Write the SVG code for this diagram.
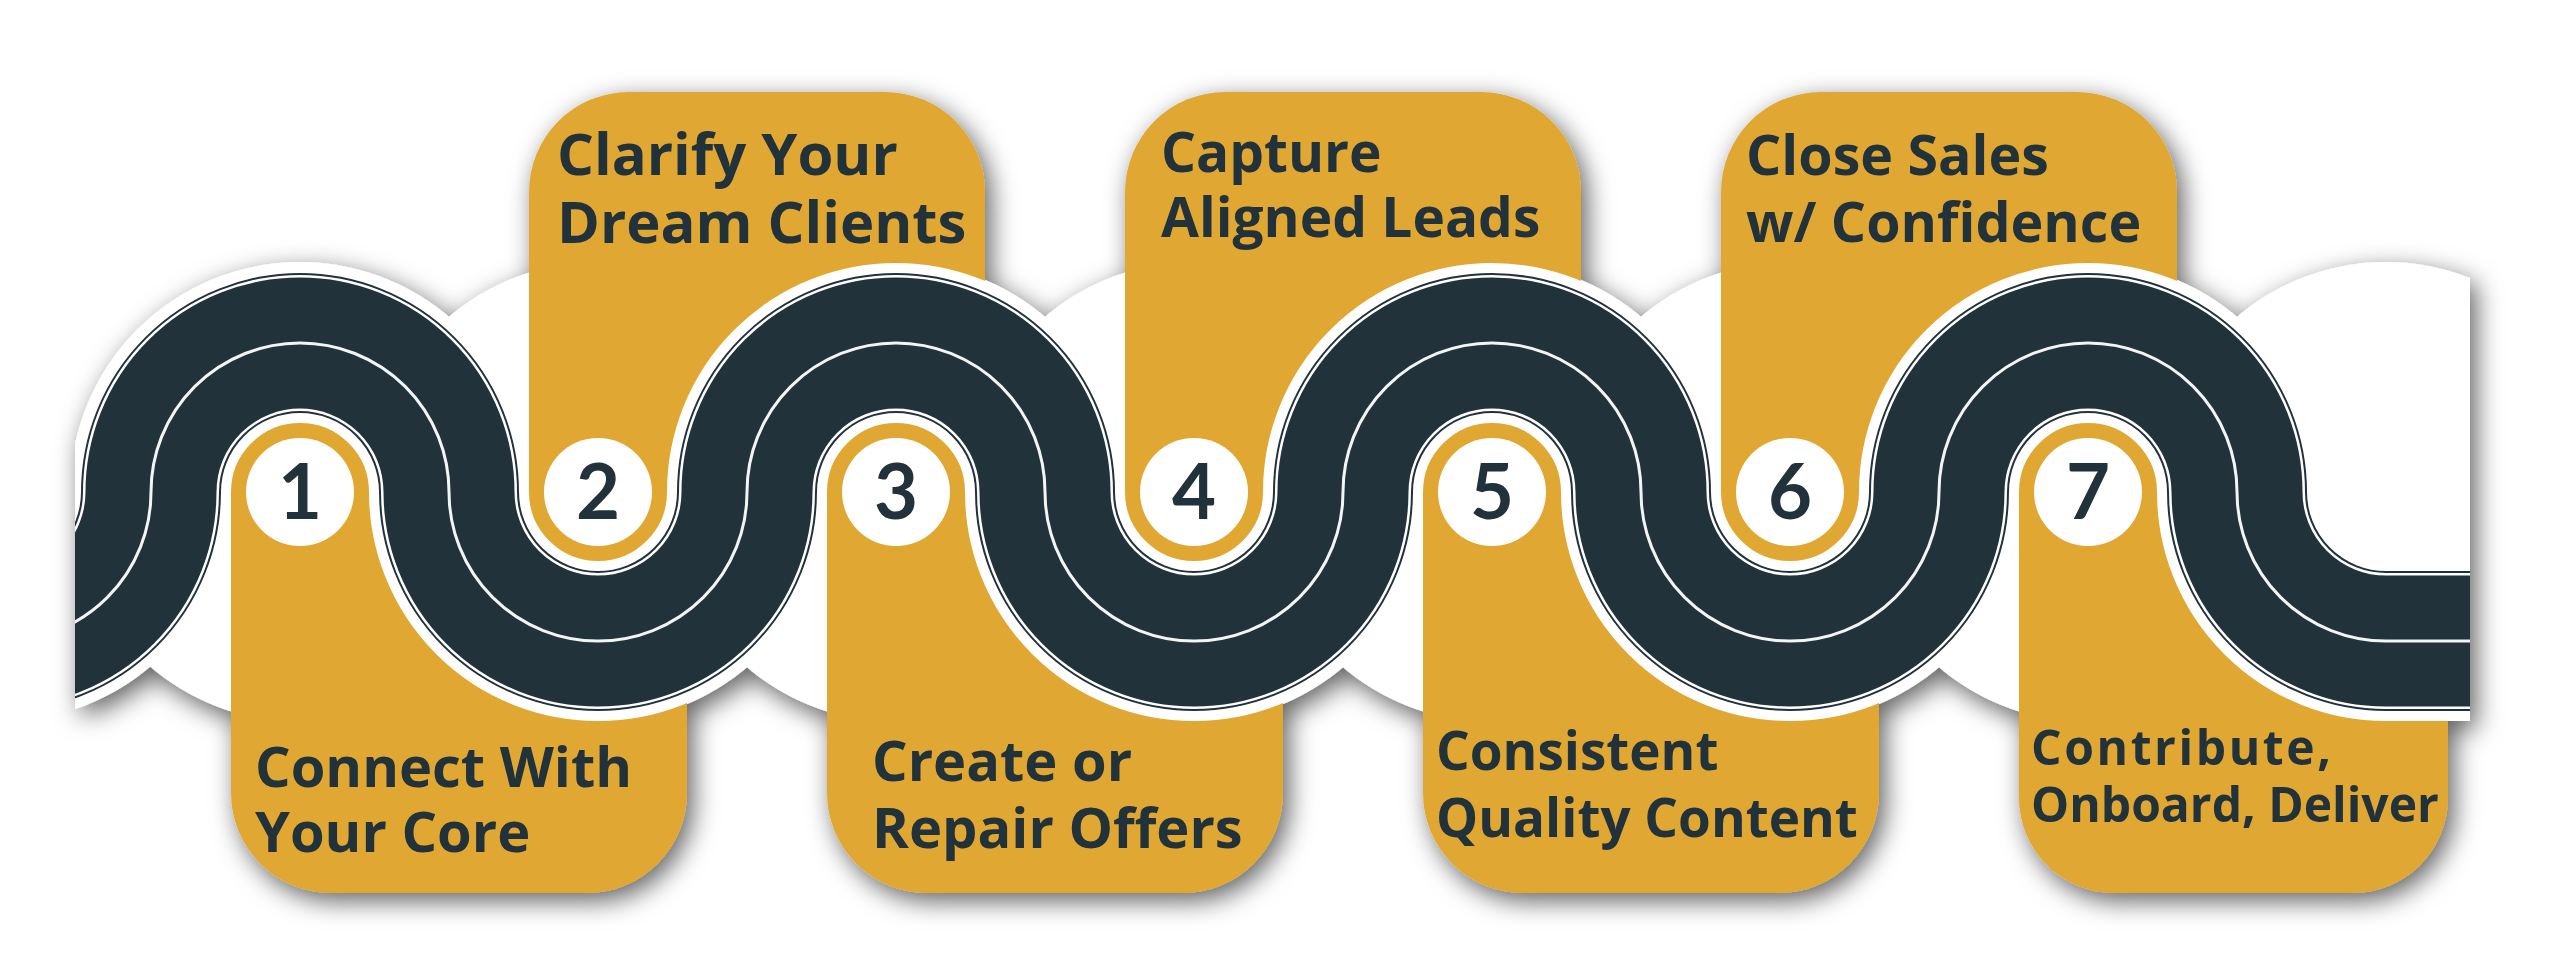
<svg xmlns="http://www.w3.org/2000/svg" xmlns:xlink="http://www.w3.org/1999/xlink" width="2560" height="954" viewBox="0 0 2560 954">
<defs>
<style>
.card{fill:#E0A833}
.disc{fill:#FFFFFF}
.numbg{fill:#FFFFFF}
.num{font-family:Lato,"Open Sans","Liberation Sans",sans-serif;font-weight:700;font-size:76px;fill:#22313A;text-anchor:middle}
.lbl{font-family:"Open Sans","Liberation Sans",sans-serif;font-weight:700;fill:#22313A}
.r-outline{fill:none;stroke:#FFFFFF;stroke-width:160}
.r-base{fill:none;stroke:#22313A;stroke-width:140}
.r-edge{fill:none;stroke:#FFFFFF;stroke-width:136}
.r-fill{fill:none;stroke:#22313A;stroke-width:131}
.r-mid{fill:none;stroke:#F2F4F5;stroke-width:3}
</style>
<filter id="shadow">
<feGaussianBlur in="SourceAlpha" stdDeviation="13"/>
<feOffset dx="6" dy="8" result="b"/>
<feFlood flood-color="#000000" flood-opacity="0.62"/>
<feComposite in2="b" operator="in"/>
<feMerge><feMergeNode/><feMergeNode in="SourceGraphic"/></feMerge>
</filter>
<clipPath id="frame"><rect x="75" y="0" width="2395" height="954"/></clipPath>
<clipPath id="c7clip"><path d="M2019,420 H2200 V492 L2210,560 L2386,700 H2448 V798 A95,95 0 0 1 2353,893 H2114 A95,95 0 0 1 2019,798 Z"/></clipPath>
<path id="roadPath" d="M-147,492 A149,149 0 0 0 151,492 A149,149 0 0 1 449,492 A149,149 0 0 0 747,492 A149,149 0 0 1 1045,492 A149,149 0 0 0 1343,492 A149,149 0 0 1 1641,492 A149,149 0 0 0 1939,492 A149,149 0 0 1 2237,492 A149,149 0 0 0 2386,641 L2520,641"/>
</defs>
<rect x="0" y="0" width="2560" height="954" fill="#FFFFFF"/>
<g filter="url(#shadow)">
<g clip-path="url(#frame)">
<g id="backdrop">
<circle class="disc" cx="300" cy="492" r="230"/>
<circle class="disc" cx="598" cy="492" r="230"/>
<circle class="disc" cx="896" cy="492" r="230"/>
<circle class="disc" cx="1194" cy="492" r="230"/>
<circle class="disc" cx="1492" cy="492" r="230"/>
<circle class="disc" cx="1790" cy="492" r="230"/>
<circle class="disc" cx="2088" cy="492" r="230"/>
<circle class="disc" cx="2386" cy="492" r="230"/>
</g>
<g id="step1">
<path class="card" d="M231,420 H500 V492 H687 V793 A100,100 0 0 1 587,893 H331 A100,100 0 0 1 231,793 Z"/>
<circle class="numbg" cx="300" cy="492" r="54"/>
<text class="num" x="300" y="519">1</text>
<text class="lbl" font-size="56" x="255" y="787">Connect With</text>
<text class="lbl" font-size="56" x="255" y="852">Your Core</text>
</g>
<g id="step2">
<path class="card" d="M529,192 A100,100 0 0 1 629,92 H885 A100,100 0 0 1 985,192 V492 H688 V570 H529 Z"/>
<circle class="numbg" cx="598" cy="492" r="54"/>
<text class="num" x="598" y="519">2</text>
<text class="lbl" font-size="58" x="557" y="175">Clarify Your</text>
<text class="lbl" font-size="58" x="557" y="243">Dream Clients</text>
</g>
<g id="step3">
<path class="card" d="M827,420 H1096 V492 H1283 V793 A100,100 0 0 1 1183,893 H927 A100,100 0 0 1 827,793 Z"/>
<circle class="numbg" cx="896" cy="492" r="54"/>
<text class="num" x="896" y="519">3</text>
<text class="lbl" font-size="56" x="872" y="781">Create or</text>
<text class="lbl" font-size="56" x="872" y="848">Repair Offers</text>
</g>
<g id="step4">
<path class="card" d="M1125,192 A100,100 0 0 1 1225,92 H1481 A100,100 0 0 1 1581,192 V492 H1284 V570 H1125 Z"/>
<circle class="numbg" cx="1194" cy="492" r="54"/>
<text class="num" x="1194" y="519">4</text>
<text class="lbl" font-size="55" x="1161" y="172">Capture</text>
<text class="lbl" font-size="55" x="1161" y="237">Aligned Leads</text>
</g>
<g id="step5">
<path class="card" d="M1423,420 H1692 V492 H1879 V793 A100,100 0 0 1 1779,893 H1523 A100,100 0 0 1 1423,793 Z"/>
<circle class="numbg" cx="1492" cy="492" r="54"/>
<text class="num" x="1492" y="519">5</text>
<text class="lbl" font-size="53" x="1436" y="770">Consistent</text>
<text class="lbl" font-size="53" x="1436" y="837">Quality Content</text>
</g>
<g id="step6">
<path class="card" d="M1721,192 A100,100 0 0 1 1821,92 H2077 A100,100 0 0 1 2177,192 V492 H1880 V570 H1721 Z"/>
<circle class="numbg" cx="1790" cy="492" r="54"/>
<text class="num" x="1790" y="519">6</text>
<text class="lbl" font-size="55.5" x="1746" y="175">Close Sales</text>
<text class="lbl" font-size="55.5" x="1746" y="242">w/ Confidence</text>
</g>
<g id="step7">
<path class="card" d="M2019,420 H2200 V492 L2210,560 L2386,700 H2448 V798 A95,95 0 0 1 2353,893 H2114 A95,95 0 0 1 2019,798 Z"/>
<circle class="numbg" cx="2088" cy="492" r="54"/>
<text class="num" x="2088" y="519">7</text>
<g clip-path="url(#c7clip)">
<text class="lbl" font-size="48" x="2031" y="765" letter-spacing="2.6">Contribute,</text>
<text class="lbl" font-size="48" x="2031" y="822">Onboard, Deliver</text>
</g>
</g>
<g id="connectors">
<use xlink:href="#roadPath" class="r-outline"/>
<use xlink:href="#roadPath" class="r-base"/>
<use xlink:href="#roadPath" class="r-edge"/>
<use xlink:href="#roadPath" class="r-fill"/>
<use xlink:href="#roadPath" class="r-mid"/>
</g>
</g>
</g>
</svg>
